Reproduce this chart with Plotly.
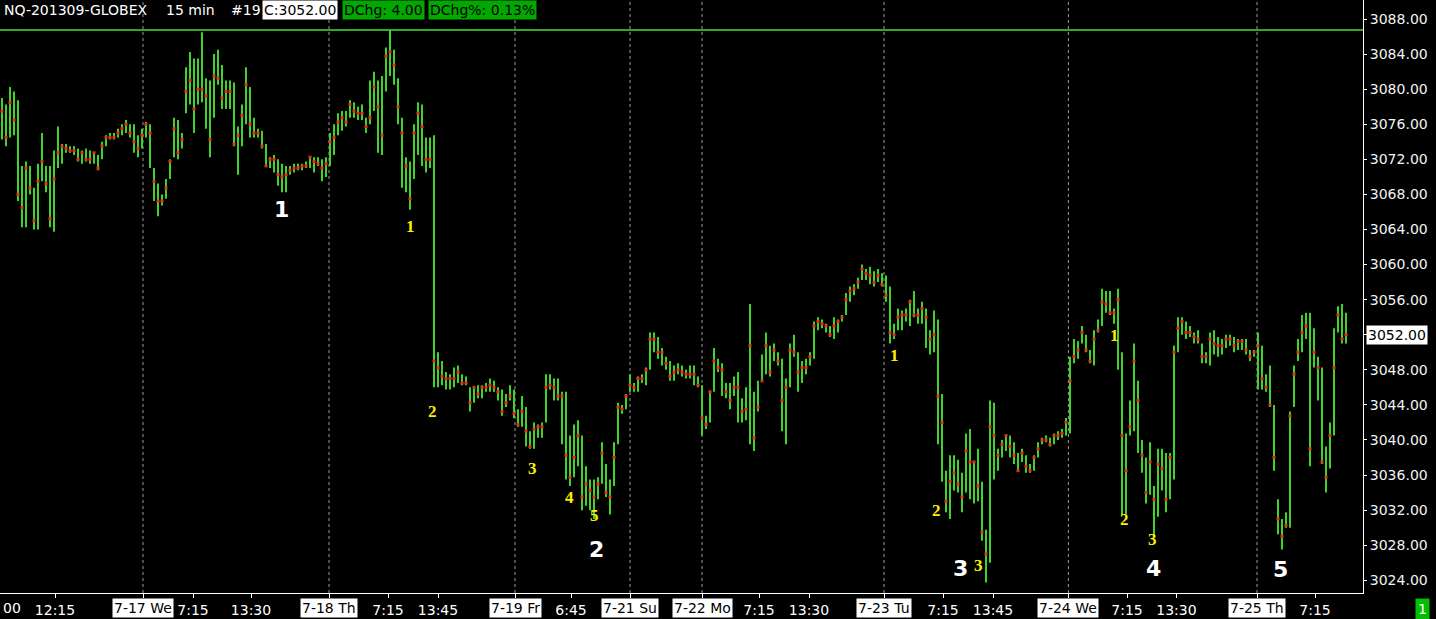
import plotly.graph_objects as go

# ---------------- data: 30-minute high / low / close per session ----------------
jul16_high = [3079.0, 3078.25, 3080.25, 3079.75, 3078.75, 3071.25, 3071.75, 3071.25, 3068.75, 3071.5,
              3075.0, 3071.25, 3071.25, 3073.0, 3075.75, 3073.75, 3073.75, 3073.5, 3073.5, 3073.25,
              3073.0, 3073.25, 3073.0, 3072.75, 3072.5, 3074.0, 3074.75, 3075.0, 3075.0, 3075.5,
              3076.0, 3076.5, 3076.0, 3076.0, 3074.75]
jul16_low = [3074.25, 3073.5, 3074.5, 3074.75, 3067.25, 3064.25, 3064.25, 3068.0, 3064.0, 3064.0,
             3069.5, 3068.25, 3064.25, 3063.75, 3071.0, 3071.5, 3072.75, 3072.75, 3072.5, 3071.75,
             3071.5, 3071.75, 3071.5, 3071.5, 3070.75, 3072.0, 3073.5, 3074.25, 3074.25, 3074.5,
             3074.75, 3075.0, 3074.5, 3072.75, 3072.25]
jul16_close = [3077.5, 3074.5, 3078.5, 3076.5, 3068.0, 3066.5, 3071.0, 3068.75, 3065.0, 3069.5,
               3071.75, 3069.25, 3065.25, 3069.75, 3072.75, 3073.5, 3073.25, 3073.0, 3073.0, 3072.0,
               3072.75, 3072.0, 3072.0, 3072.75, 3071.0, 3073.5, 3074.5, 3074.5, 3074.5, 3075.0,
               3075.5, 3076.0, 3075.0, 3074.0, 3073.25]

jul17_high = [3075.5, 3076.25, 3076.0, 3071.0, 3069.25, 3068.0, 3069.75, 3072.0, 3076.75, 3076.5,
              3075.0, 3082.5, 3084.25, 3083.5, 3083.5, 3086.5, 3081.25, 3081.0, 3084.0, 3084.5,
              3082.75, 3081.0, 3081.0, 3080.75, 3075.75, 3078.25, 3082.5, 3080.25, 3076.75, 3075.5,
              3075.25, 3073.75, 3072.25, 3072.5, 3072.0, 3071.5, 3071.25, 3071.25, 3071.5, 3071.5,
              3071.5, 3071.75, 3072.25, 3072.25, 3072.25, 3072.0, 3072.25]
jul17_low = [3073.25, 3074.5, 3071.0, 3067.25, 3065.5, 3066.75, 3067.5, 3069.75, 3072.25, 3072.0,
             3073.25, 3077.25, 3078.25, 3075.0, 3078.25, 3078.5, 3075.5, 3072.25, 3076.75, 3080.5,
             3077.75, 3077.75, 3077.75, 3073.5, 3070.25, 3073.5, 3076.0, 3074.5, 3074.5, 3074.5,
             3073.25, 3071.25, 3071.0, 3070.5, 3069.0, 3068.25, 3068.25, 3070.25, 3070.5, 3070.75,
             3070.75, 3071.0, 3071.0, 3070.5, 3071.25, 3069.5, 3070.0]
jul17_close = [3074.75, 3076.0, 3075.0, 3069.5, 3067.25, 3067.25, 3068.75, 3071.75, 3075.5, 3072.75,
               3074.25, 3079.75, 3081.0, 3077.75, 3080.0, 3080.0, 3079.25, 3074.25, 3081.5, 3081.25,
               3079.0, 3079.75, 3079.75, 3073.75, 3074.75, 3077.0, 3080.5, 3076.0, 3075.0, 3075.0,
               3073.5, 3071.25, 3072.0, 3072.0, 3070.25, 3070.0, 3070.25, 3070.75, 3071.0, 3071.0,
               3071.25, 3071.25, 3072.25, 3071.75, 3071.5, 3071.0, 3071.5]

jul18_high = [3075.0, 3076.0, 3077.25, 3077.5, 3077.5, 3078.75, 3078.5, 3078.0, 3078.25, 3076.75,
              3081.0, 3082.0, 3081.0, 3081.5, 3084.75, 3086.75, 3084.5, 3081.25, 3076.75, 3072.25,
              3071.75, 3076.0, 3078.5, 3078.25, 3074.5, 3074.5, 3074.75, 3050.0, 3049.0, 3047.75,
              3047.5, 3048.25, 3048.5, 3047.5, 3047.25, 3046.0, 3046.0, 3046.25, 3046.25, 3046.5,
              3047.0, 3046.75, 3046.0, 3045.75, 3045.25, 3046.25]
jul18_low = [3071.25, 3072.5, 3074.75, 3075.25, 3075.75, 3076.75, 3076.75, 3076.5, 3076.5, 3075.0,
             3076.0, 3077.5, 3072.75, 3072.5, 3079.75, 3081.5, 3080.5, 3076.0, 3068.75, 3068.25,
             3066.25, 3069.75, 3072.5, 3071.25, 3070.5, 3071.0, 3046.0, 3046.0, 3046.25, 3045.75,
             3045.75, 3046.0, 3046.5, 3046.25, 3046.25, 3043.25, 3044.25, 3044.75, 3044.75, 3045.5,
             3045.5, 3045.5, 3044.5, 3042.75, 3043.75, 3044.5]
jul18_close = [3074.0, 3074.5, 3076.25, 3076.75, 3076.25, 3078.25, 3077.5, 3077.25, 3077.25, 3075.75,
               3076.75, 3080.25, 3078.0, 3074.75, 3083.75, 3084.25, 3082.75, 3078.0, 3075.0, 3071.25,
               3067.5, 3075.0, 3077.25, 3075.75, 3072.0, 3072.0, 3049.0, 3048.25, 3047.25, 3047.0,
               3047.0, 3047.0, 3047.75, 3046.5, 3046.5, 3044.25, 3046.0, 3045.25, 3046.0, 3046.0,
               3046.25, 3046.0, 3045.5, 3043.25, 3044.25, 3045.0]

jul19_high = [3045.75, 3043.5, 3045.0, 3043.75, 3041.0, 3042.0, 3041.75, 3042.0, 3047.5, 3047.5,
              3047.0, 3047.0, 3045.5, 3045.5, 3040.5, 3041.75, 3042.25, 3040.5, 3037.0, 3035.5,
              3035.5, 3035.75, 3039.75, 3037.25, 3035.5, 3039.75, 3044.25, 3044.0, 3045.25]
jul19_low = [3042.5, 3041.5, 3041.5, 3039.25, 3039.0, 3039.0, 3040.25, 3040.25, 3042.0, 3045.75,
             3044.5, 3044.5, 3039.5, 3035.5, 3034.75, 3035.75, 3037.0, 3032.0, 3032.5, 3032.0,
             3031.0, 3033.25, 3035.0, 3033.5, 3031.5, 3034.75, 3039.5, 3043.0, 3043.5]
jul19_close = [3043.0, 3041.75, 3043.25, 3041.0, 3039.25, 3041.25, 3041.5, 3041.5, 3046.0, 3046.25,
               3046.0, 3045.0, 3045.0, 3038.25, 3035.75, 3038.0, 3040.5, 3033.5, 3035.0, 3034.25,
               3033.5, 3035.0, 3038.5, 3034.0, 3033.5, 3038.0, 3043.75, 3043.5, 3045.0]

jul21_high = [3047.5, 3046.5, 3047.25, 3047.5, 3048.25, 3052.25, 3052.25, 3051.75, 3050.5, 3049.5,
              3049.0, 3048.5, 3048.75, 3048.5, 3048.0, 3048.5, 3048.5, 3047.25]
jul21_low = [3045.5, 3045.5, 3045.5, 3046.5, 3046.25, 3048.0, 3050.0, 3049.25, 3048.5, 3048.0,
             3046.75, 3046.75, 3047.5, 3047.25, 3047.0, 3047.0, 3046.25, 3046.0]
jul21_close = [3046.25, 3046.0, 3047.0, 3047.0, 3048.0, 3051.5, 3051.5, 3050.0, 3050.0, 3048.75,
               3047.25, 3047.75, 3048.0, 3047.75, 3047.5, 3047.5, 3047.5, 3046.25]

jul22_high = [3046.25, 3042.75, 3045.5, 3050.5, 3049.25, 3048.75, 3046.5, 3046.5, 3047.25, 3047.75,
              3044.75, 3046.0, 3055.5, 3045.5, 3046.75, 3049.75, 3052.25, 3050.75, 3051.0, 3050.0,
              3049.25, 3047.0, 3051.0, 3052.0, 3050.0, 3049.0, 3049.25, 3050.0, 3053.5, 3054.0,
              3053.75, 3053.25, 3053.0, 3054.0, 3053.75, 3054.25, 3056.75, 3057.5, 3057.75, 3058.5,
              3060.0, 3059.5, 3059.75, 3059.25, 3059.5, 3059.0]
jul22_low = [3040.5, 3041.25, 3042.0, 3045.5, 3047.75, 3045.0, 3044.75, 3043.5, 3045.0, 3042.0,
             3042.0, 3042.25, 3039.5, 3038.75, 3043.25, 3046.75, 3047.5, 3047.25, 3049.0, 3048.5,
             3041.0, 3039.5, 3046.0, 3049.5, 3045.5, 3046.5, 3047.5, 3048.5, 3049.25, 3052.5,
             3052.75, 3052.25, 3051.75, 3051.5, 3052.25, 3053.5, 3054.25, 3055.75, 3056.5, 3057.25,
             3058.25, 3058.25, 3057.75, 3057.5, 3058.0, 3057.5]
jul22_close = [3042.5, 3041.75, 3045.5, 3049.0, 3048.25, 3048.0, 3045.5, 3044.5, 3046.0, 3046.0,
               3043.25, 3043.5, 3050.75, 3040.25, 3043.75, 3046.75, 3050.75, 3047.75, 3050.25, 3049.0,
               3044.5, 3046.0, 3050.25, 3050.0, 3047.75, 3048.25, 3048.25, 3049.5, 3053.0, 3053.5,
               3053.25, 3053.0, 3052.0, 3053.0, 3053.5, 3054.0, 3056.0, 3057.0, 3057.25, 3058.0,
               3059.5, 3059.0, 3058.75, 3058.0, 3058.75, 3057.75]

jul23_high = [3058.75, 3057.5, 3053.25, 3055.0, 3054.75, 3055.0, 3056.0, 3057.0, 3055.0, 3055.75,
              3055.0, 3052.5, 3054.75, 3053.75, 3045.25, 3036.5, 3038.25, 3038.25, 3037.75, 3036.25,
              3040.75, 3041.25, 3037.5, 3039.0, 3035.25, 3029.75, 3044.5, 3044.25, 3039.0, 3040.0,
              3040.5, 3040.5, 3039.75, 3038.5, 3039.0, 3038.25, 3037.25, 3038.25, 3039.75, 3040.25,
              3040.5, 3040.25, 3040.75, 3041.0, 3041.25, 3042.5]
jul23_low = [3055.75, 3051.0, 3051.5, 3052.5, 3052.5, 3053.5, 3053.0, 3054.0, 3053.25, 3053.25,
             3050.5, 3049.75, 3050.0, 3039.5, 3035.25, 3031.75, 3031.0, 3034.25, 3034.0, 3031.75,
             3034.0, 3033.25, 3032.75, 3033.0, 3028.5, 3023.75, 3026.0, 3035.5, 3036.5, 3038.0,
             3038.75, 3038.0, 3037.25, 3036.5, 3037.5, 3036.25, 3036.25, 3036.5, 3038.0, 3039.5,
             3039.75, 3039.25, 3039.5, 3040.0, 3040.25, 3040.5]
jul23_close = [3056.5, 3052.25, 3052.0, 3054.0, 3054.25, 3054.25, 3055.75, 3054.25, 3054.25, 3055.0,
               3054.0, 3051.5, 3052.0, 3045.0, 3042.0, 3033.0, 3035.25, 3036.25, 3035.0, 3033.5,
               3038.75, 3037.5, 3037.5, 3034.75, 3029.5, 3027.0, 3041.5, 3040.5, 3038.25, 3039.5,
               3040.5, 3039.25, 3038.25, 3036.5, 3038.5, 3037.0, 3036.5, 3038.0, 3039.0, 3040.0,
               3040.0, 3039.5, 3040.5, 3040.5, 3040.75, 3042.0]

jul24_high = [3049.5, 3051.5, 3051.25, 3053.0, 3052.0, 3050.25, 3052.5, 3053.75, 3057.25, 3057.0,
              3057.0, 3055.0, 3057.25, 3050.0, 3040.75, 3044.5, 3051.0, 3046.75, 3040.0, 3038.0,
              3039.75, 3034.75, 3039.0, 3039.0, 3038.5, 3038.5, 3050.75, 3054.0, 3054.0, 3053.5,
              3053.0, 3052.25, 3052.5, 3051.0, 3050.0, 3052.25, 3052.5, 3051.75, 3051.5, 3052.0,
              3052.0, 3051.75, 3051.5, 3051.5, 3051.5, 3050.25, 3050.25]
jul24_low = [3040.75, 3048.75, 3049.25, 3051.0, 3050.0, 3048.75, 3048.5, 3052.25, 3053.0, 3054.5,
             3054.25, 3053.25, 3048.0, 3031.5, 3031.5, 3040.5, 3041.0, 3038.5, 3036.25, 3032.75,
             3033.75, 3029.0, 3031.25, 3034.25, 3031.75, 3033.25, 3035.5, 3050.0, 3052.0, 3051.5,
             3051.75, 3051.0, 3051.0, 3048.75, 3048.75, 3048.5, 3049.75, 3049.5, 3049.75, 3050.5,
             3050.75, 3050.0, 3050.25, 3050.25, 3049.75, 3049.0, 3049.5]
jul24_close = [3046.75, 3049.5, 3050.25, 3052.25, 3050.25, 3049.0, 3051.5, 3052.5, 3055.75, 3055.5,
               3054.5, 3054.5, 3056.0, 3040.5, 3036.5, 3041.5, 3049.0, 3044.5, 3038.25, 3034.0,
               3037.5, 3033.25, 3037.25, 3036.75, 3033.25, 3038.0, 3050.0, 3052.75, 3053.5, 3052.25,
               3052.25, 3051.75, 3051.5, 3049.5, 3049.5, 3051.5, 3051.0, 3050.75, 3050.75, 3051.5,
               3051.5, 3050.75, 3051.25, 3051.25, 3050.25, 3049.5, 3050.0]

jul25_high = [3052.25, 3050.75, 3047.5, 3048.5, 3044.0, 3033.25, 3031.0, 3031.75, 3043.25, 3048.5,
              3051.5, 3054.25, 3054.5, 3054.5, 3052.75, 3049.5, 3048.25, 3039.25, 3042.0, 3052.75,
              3055.25, 3055.5, 3054.5]
jul25_low = [3045.75, 3045.75, 3045.5, 3043.75, 3036.5, 3029.25, 3027.5, 3030.0, 3030.0, 3043.75,
             3049.0, 3050.0, 3051.5, 3037.0, 3048.25, 3044.5, 3037.25, 3034.0, 3036.75, 3040.5,
             3052.25, 3051.0, 3051.0]
jul25_close = [3050.75, 3047.0, 3046.0, 3044.0, 3038.0, 3031.0, 3029.0, 3030.25, 3042.75, 3047.5,
               3050.0, 3052.25, 3053.0, 3039.0, 3050.0, 3048.25, 3037.5, 3035.75, 3040.5, 3048.25,
               3054.25, 3051.5, 3052.0]

# ---------------- axis labels ----------------
y_ticks = [3024, 3028, 3032, 3036, 3040, 3044, 3048, 3052, 3056, 3060, 3064, 3068, 3072, 3076, 3080, 3084, 3088]
time_tick_pos = [13.25, 47.75, 62.25, 96.5, 109, 142.25, 189.25, 201.75, 235.25, 247.75, 281.25, 293.6, 328.25]
time_tick_text = ["12:15", "7:15", "13:30", "7:15", "13:45", "6:45", "7:15", "13:30", "7:15", "13:45", "7:15", "13:30", "7:15"]
date_tick_pos = [35.25, 81.75, 128.25, 157.0, 175.0, 220.5, 266.6, 313.75]
date_tick_text = ["7-17 We", "7-18 Th", "7-19 Fr", "7-21 Su", "7-22 Mo", "7-23 Tu", "7-24 We", "7-25 Th"]

# wave labels (bar index, price, text, kind)
wave_labels = [
    (69.75, 3066.3, "1", "major"), (102.0, 3064.3, "1", "minor"), (107.5, 3043.3, "2", "minor"),
    (132.5, 3036.7, "3", "minor"), (141.75, 3033.4, "4", "minor"), (148.0, 3031.4, "5", "minor"),
    (148.5, 3027.5, "2", "major"), (223.0, 3049.6, "1", "minor"), (233.5, 3032.0, "2", "minor"),
    (244.0, 3025.7, "3", "minor"), (239.5, 3025.3, "3", "major"), (278.0, 3051.9, "1", "minor"),
    (280.5, 3030.9, "2", "minor"), (287.5, 3028.6, "3", "minor"), (287.75, 3025.3, "4", "major"),
    (319.5, 3025.2, "5", "major"),
]

high = jul16_high + jul17_high + jul18_high + jul19_high + jul21_high + jul22_high + jul23_high + jul24_high + jul25_high
low = jul16_low + jul17_low + jul18_low + jul19_low + jul21_low + jul22_low + jul23_low + jul24_low + jul25_low
close = jul16_close + jul17_close + jul18_close + jul19_close + jul21_close + jul22_close + jul23_close + jul24_close + jul25_close
idx = list(range(len(high)))

GREEN = "#3fd42b"
RED = "#e0321c"
FONT = "DejaVu Sans"

bx, by = [], []
for i, h, l in zip(idx, high, low):
    bx += [i, i, None]
    by += [l, h, None]

fig = go.Figure()
fig.add_trace(go.Scatter(x=bx, y=by, mode="lines", line=dict(color=GREEN, width=2),
                         hoverinfo="skip", showlegend=False))
fig.add_trace(go.Scatter(x=idx, y=close, mode="markers",
                         marker=dict(symbol="square", size=3, color=RED, line=dict(width=0)),
                         hoverinfo="skip", showlegend=False))

# highest-high reference line
fig.add_hline(y=max(high), line=dict(color="#44e030", width=1.3))

# session separators
for p in date_tick_pos:
    fig.add_shape(type="line", x0=p, x1=p, y0=0, y1=1, xref="x", yref="paper",
                  line=dict(color="#9a9a9a", width=1, dash="dot"), layer="below")

annotations = []
# date labels on x axis (white boxes)
for p, t in zip(date_tick_pos, date_tick_text):
    annotations.append(dict(x=p, y=0, xref="x", yref="paper", yanchor="top", yshift=-5,
                            text=t, showarrow=False, bgcolor="white", borderpad=1,
                            font=dict(family=FONT, size=14, color="black")))
annotations.append(dict(x=0, y=0, xref="paper", yref="paper", xanchor="left", yanchor="top",
                        xshift=1, yshift=-5, text="00", showarrow=False,
                        font=dict(family=FONT, size=14, color="white")))
# header
header = [(2, "NQ-201309-GLOBEX", None, "white"), (164, "15 min", None, "white"),
          (229, "#19", None, "white"), (262, "C:3052.00", "white", "black"),
          (342, "DChg: 4.00", "#00a800", "black"), (428, "DChg%: 0.13%", "#00a800", "black")]
for px, t, bg, fc in header:
    a = dict(x=0, y=1, xref="paper", yref="paper", xanchor="left", yanchor="top",
             xshift=px, yshift=0, text=t, showarrow=False, borderpad=1,
             font=dict(family=FONT, size=14, color=fc))
    if bg:
        a["bgcolor"] = bg
    annotations.append(a)
# last price marker on the axis
annotations.append(dict(x=1, y=close[-1], xref="paper", yref="y", xanchor="left", xshift=3,
                        text=f"{close[-1]:.2f}", showarrow=False, bgcolor="white", borderpad=1,
                        font=dict(family=FONT, size=14, color="black")))
# green box bottom right
annotations.append(dict(x=1, y=0, xref="paper", yref="paper", xanchor="left", yanchor="top",
                        xshift=52, yshift=-5, text="1", showarrow=False, bgcolor="#00c000",
                        borderpad=2, font=dict(family=FONT, size=14, color="white")))
# wave counts
for wx, wy, t, kind in wave_labels:
    if kind == "major":
        f = dict(family=FONT, size=22, color="white")
    else:
        f = dict(family="Liberation Serif", size=17, color="#ffee00")
    annotations.append(dict(x=wx, y=wy, xref="x", yref="y", text=f"<b>{t}</b>",
                            showarrow=False, font=f))

fig.update_layout(
    width=1436, height=619,
    margin=dict(l=0, r=73, t=0, b=26),
    paper_bgcolor="black", plot_bgcolor="black",
    showlegend=False,
    annotations=annotations,
    xaxis=dict(range=[-0.5, 340.25], tickmode="array", tickvals=time_tick_pos + date_tick_pos,
               ticktext=time_tick_text + [""] * len(date_tick_pos),
               ticks="outside", ticklen=4, tickcolor="white", showline=True, linecolor="white",
               linewidth=1, showgrid=False, zeroline=False,
               tickfont=dict(family=FONT, size=14, color="white")),
    yaxis=dict(range=[3022.55, 3090.17], side="right", tickmode="array", tickvals=y_ticks,
               ticktext=[f"{v:.2f}" for v in y_ticks], ticks="outside", ticklen=3,
               tickcolor="white", showline=True, linecolor="white", linewidth=1,
               showgrid=False, zeroline=False,
               tickfont=dict(family=FONT, size=14, color="#f2f2f2")),
)

fig.write_html("out.html", config={"displayModeBar": False}, post_script=(
    "document.documentElement.style.margin='0';document.body.style.margin='0';"
    "document.body.style.padding='0';document.body.style.overflow='hidden';"
    "document.body.style.background='black';"))
